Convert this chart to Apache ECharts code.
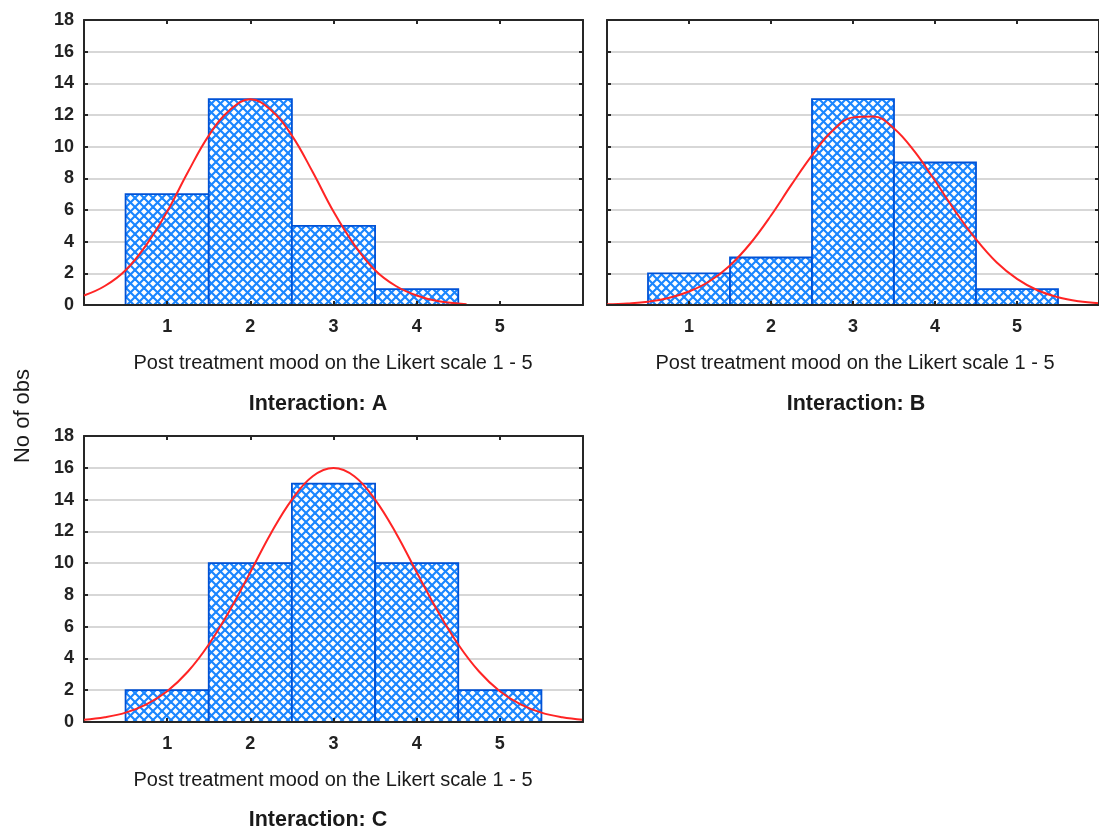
<!DOCTYPE html>
<html>
<head>
<meta charset="utf-8">
<script src="https://cdn.jsdelivr.net/npm/echarts@6/dist/echarts.min.js"></script>
<style>
  html, body { margin: 0; padding: 0; background: #ffffff; }
  #chart { width: 1099px; height: 833px; }
</style>
</head>
<body>
<div id="chart"></div>
<script>
// ---------- data ----------
const categories = [1, 2, 3, 4, 5];
const xTickLabels = [1, 2, 3, 4, 5];
const yTickStep = 2;
const yMax = 18;

const countsA = [7, 13, 5, 1, 0];
const countsB = [2, 3, 13, 9, 1];
const countsC = [2, 10, 15, 10, 2];

// fitted normal curves
const curveXA = [0, 0.25, 0.5, 0.75, 1, 1.25, 1.5, 1.75, 2, 2.25, 2.5, 2.75, 3, 3.25, 3.5, 3.75, 4, 4.25, 4.6];
const curveYA = [0.6, 1.2, 2.2, 3.8, 5.9, 8.4, 10.7, 12.3, 13.0, 12.3, 10.7, 8.4, 5.9, 3.8, 2.2, 1.2, 0.6, 0.25, 0.05];

const curveXB = [0, 0.25, 0.5, 0.75, 1, 1.25, 1.5, 1.75, 2, 2.25, 2.5, 2.75, 3, 3.25, 3.5, 3.75, 4, 4.25, 4.5, 4.75, 5, 5.25, 5.5, 5.75, 6];
const curveYB = [0.04, 0.1, 0.21, 0.44, 0.85, 1.5, 2.5, 3.9, 5.65, 7.6, 9.45, 11.0, 11.85, 11.9, 11.15, 9.7, 7.85, 5.9, 4.15, 2.7, 1.65, 0.93, 0.49, 0.24, 0.11];

const curveXC = [0, 0.25, 0.5, 0.75, 1, 1.25, 1.5, 1.75, 2, 2.25, 2.5, 2.75, 3, 3.25, 3.5, 3.75, 4, 4.25, 4.5, 4.75, 5, 5.25, 5.5, 5.75, 6];
const curveYC = [0.14, 0.3, 0.59, 1.11, 1.94, 3.18, 4.88, 7.0, 9.43, 11.9, 14.0, 15.47, 15.99, 15.47, 14.0, 11.9, 9.43, 7.0, 4.88, 3.18, 1.94, 1.11, 0.59, 0.3, 0.14];

const panelTitles = ['Interaction: A', 'Interaction: B', 'Interaction: C'];
const xAxisTitle = 'Post treatment mood on the Likert scale 1 - 5';
const yAxisTitle = 'No of obs';

// ---------- style ----------
const FONT = '"Liberation Sans", Arial, Helvetica, sans-serif';
const AXIS_COLOR = '#262626';
const GRID_COLOR = '#d7d7d7';
const BAR_BORDER = '#0052d6';
const HATCH = '#1a86ff';
const CURVE = '#ff2424';

function makeHatch() {
  const s = 9;
  const c = document.createElement('canvas');
  c.width = s; c.height = s;
  const g = c.getContext('2d');
  g.fillStyle = '#ffffff';
  g.fillRect(0, 0, s, s);
  g.strokeStyle = HATCH;
  g.lineWidth = 2.1;
  for (const k of [-s, 0, s]) {
    g.beginPath(); g.moveTo(-2, -2 + k); g.lineTo(s + 2, s + 2 + k); g.stroke();
    g.beginPath(); g.moveTo(-2, s + 2 + k); g.lineTo(s + 2, -2 + k); g.stroke();
  }
  return c;
}
const hatchPattern = { image: makeHatch(), repeat: 'repeat' };

const panels = [
  { counts: countsA, cx: curveXA, cy: curveYA, grid: { left: 84, top: 20, width: 499, height: 285 }, yLabels: true },
  { counts: countsB, cx: curveXB, cy: curveYB, grid: { left: 607, top: 20, width: 497, height: 285 }, yLabels: false },
  { counts: countsC, cx: curveXC, cy: curveYC, grid: { left: 84, top: 436, width: 499, height: 286 }, yLabels: true }
];

const grids = [], xAxes = [], yAxes = [], series = [];
panels.forEach((p, i) => {
  grids.push(Object.assign({ containLabel: false }, p.grid));
  const axLine = { show: true, onZero: false, lineStyle: { color: AXIS_COLOR, width: 2 } };
  const tickIn = { show: true, inside: true, length: 4, lineStyle: { color: AXIS_COLOR, width: 2 } };
  xAxes.push({
    gridIndex: i, type: 'value', min: 0, max: 6, interval: 1, position: 'bottom', z: 10,
    axisLine: axLine,
    axisTick: Object.assign({ customValues: xTickLabels }, tickIn),
    axisLabel: { customValues: xTickLabels, margin: 13, fontSize: 18, fontWeight: 'bold', color: '#222', fontFamily: FONT },
    splitLine: { show: false }
  });
  xAxes.push({
    gridIndex: i, type: 'value', min: 0, max: 6, interval: 1, position: 'top', z: 10,
    axisLine: axLine,
    axisTick: Object.assign({ customValues: xTickLabels }, tickIn),
    axisLabel: { show: false },
    splitLine: { show: false }
  });
  yAxes.push({
    gridIndex: i, type: 'value', min: 0, max: yMax, interval: yTickStep, position: 'left',
    axisLine: axLine,
    axisTick: tickIn,
    axisLabel: { show: p.yLabels, margin: 10, fontSize: 18, fontWeight: 'bold', color: '#222', fontFamily: FONT },
    splitLine: { show: true, lineStyle: { color: GRID_COLOR, width: 2 } }
  });
  yAxes.push({
    gridIndex: i, type: 'value', min: 0, max: yMax, interval: yTickStep, position: 'right', z: 10,
    axisLine: axLine,
    axisTick: tickIn,
    axisLabel: { show: false },
    splitLine: { show: false }
  });

  series.push({
    type: 'custom',
    xAxisIndex: 2 * i, yAxisIndex: 2 * i,
    z: 3,
    data: categories.map((c, k) => [c, p.counts[k]]),
    renderItem: function (params, api) {
      const x = api.value(0), y = api.value(1);
      if (!(y > 0)) return null;
      const a = api.coord([x - 0.5, y]);
      const b = api.coord([x + 0.5, 0]);
      return {
        type: 'rect',
        shape: { x: a[0], y: a[1], width: b[0] - a[0], height: b[1] - a[1] },
        style: { fill: hatchPattern, stroke: BAR_BORDER, lineWidth: 1.8 }
      };
    },
    silent: true
  });
  series.push({
    type: 'line',
    xAxisIndex: 2 * i, yAxisIndex: 2 * i,
    z: 5,
    smooth: 0.4,
    symbol: 'none',
    data: p.cx.map((x, k) => [x, p.cy[k]]),
    lineStyle: { color: CURVE, width: 2 },
    silent: true
  });
});

const txt = (text, x, y, font, rot) => ({
  type: 'text', x: x, y: y, rotation: rot || 0, silent: true,
  style: { text: text, font: font, fill: '#1a1a1a', align: 'center', verticalAlign: 'middle' }
});

const graphics = [
  txt(xAxisTitle, 333, 363, '20px ' + FONT),
  txt(xAxisTitle, 855, 363, '20px ' + FONT),
  txt(xAxisTitle, 333, 780, '20px ' + FONT),
  txt(panelTitles[0], 318, 404, 'bold 21.5px ' + FONT),
  txt(panelTitles[1], 856, 404, 'bold 21.5px ' + FONT),
  txt(panelTitles[2], 318, 820, 'bold 21.5px ' + FONT),
  txt(yAxisTitle, 23, 416, '22px ' + FONT, Math.PI / 2)
];

const chart = echarts.init(document.getElementById('chart'), null, { renderer: 'canvas' });
chart.setOption({
  animation: false,
  backgroundColor: '#ffffff',
  textStyle: { fontFamily: FONT },
  grid: grids,
  xAxis: xAxes,
  yAxis: yAxes,
  series: series,
  graphic: graphics
});
</script>
</body>
</html>
